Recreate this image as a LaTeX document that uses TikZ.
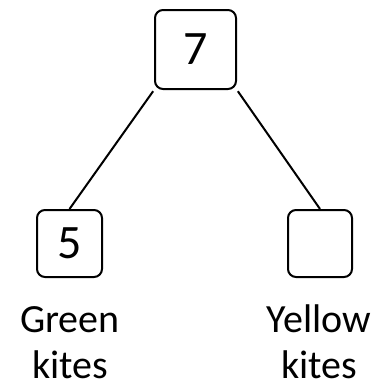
\documentclass[tikz,border=0pt]{standalone}
\usepackage{fontspec}
\setmainfont{Carlito}
\begin{document}
\begin{tikzpicture}[x=1pt,y=-1pt,
  numbox/.style={draw=black,line width=2pt,rounded corners=8pt,inner sep=0pt,
    font=\fontsize{48}{48}\selectfont},
  lbl/.style={align=center,inner sep=0pt,font=\fontsize{40}{46}\selectfont},
  edge/.style={draw=black,line width=2pt}]
\useasboundingbox (0,0) rectangle (387,383);
\node[numbox,minimum width=81pt,minimum height=79pt] (top) at (195.5,49.5) {7};
\node[numbox,minimum width=65pt,minimum height=67pt] (left) at (69.5,243.5) {5};
\node[numbox,minimum width=64pt,minimum height=67pt] (right) at (320,243.5) {};
\node[lbl,anchor=base] (g) at (70,378) {Green\\kites};
\node[lbl,anchor=base] (y) at (319,378) {Yellow\\kites};
\draw[edge,shorten <=1.5pt] (top.south west) -- (left.north);
\draw[edge,shorten <=1.5pt] (top.south east) -- (right.north);
\end{tikzpicture}
\end{document}
